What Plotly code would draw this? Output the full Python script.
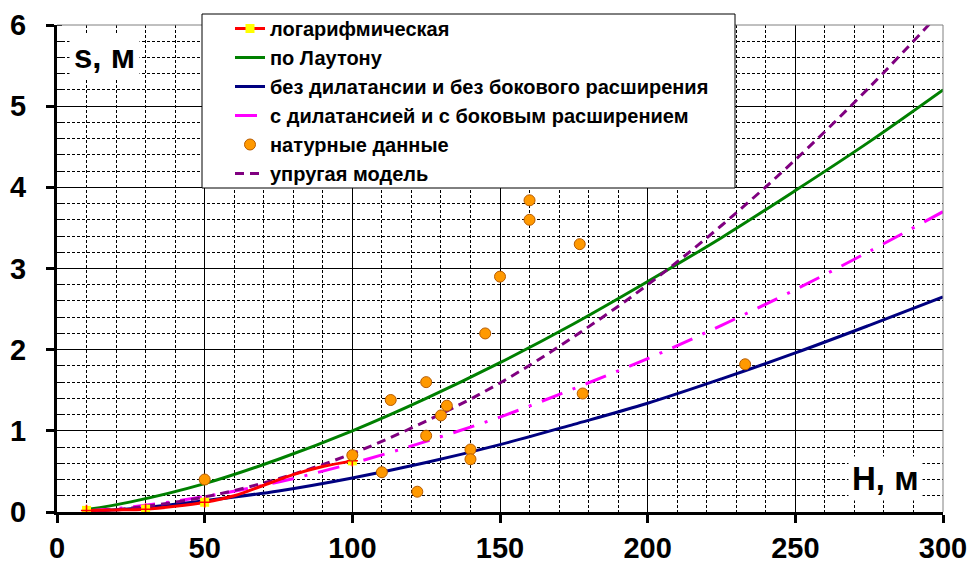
import plotly.graph_objects as go

# --- data -----------------------------------------------------------------
# Log-model curve (H, m -> s, m)
log_H = [10, 20, 30, 40, 50, 60, 70, 80, 90, 100]
log_s = [0.02, 0.025, 0.035, 0.07, 0.12, 0.20, 0.33, 0.46, 0.56, 0.63]
log_marker_H = [10, 30, 50, 100]

# Model curves share the same H grid
curve_H = [10, 25, 50, 75, 100, 125, 150, 175, 200, 225, 250, 275, 300]
lawton_s = [0.03, 0.125, 0.35, 0.65, 1.0, 1.40, 1.84, 2.32, 2.84, 3.38, 3.96, 4.56, 5.2]
nodil_s = [0.01, 0.04, 0.14, 0.26, 0.42, 0.61, 0.83, 1.08, 1.34, 1.64, 1.96, 2.30, 2.65]
dil_s = [0.013, 0.06, 0.19, 0.37, 0.60, 0.87, 1.17, 1.52, 1.89, 2.30, 2.74, 3.21, 3.70]
elastic_s = [0.01, 0.048, 0.185, 0.41, 0.72, 1.12, 1.59, 2.16, 2.80, 3.53, 4.34, 5.23, 6.19]

# Field measurements
field_H = [50, 100, 110, 113, 122, 125, 125, 130, 132, 140, 140, 145, 150, 160, 160, 177, 178, 233]
field_s = [0.40, 0.70, 0.49, 1.38, 0.25, 1.60, 0.94, 1.19, 1.31, 0.77, 0.65, 2.20, 2.90, 3.84, 3.60, 3.30, 1.46, 1.82]

x_ticks = [0, 50, 100, 150, 200, 250, 300]
y_ticks = [0, 1, 2, 3, 4, 5, 6]

names = [
    "логарифмическая",
    "по Лаутону",
    "без дилатансии и без бокового расширения",
    "с дилатансией и с боковым расширением",
    "натурные данные",
    "упругая модель",
]

FONT = "Liberation Sans, Arial, sans-serif"
LOG_LINE = dict(color="#FF0000", width=3, shape="spline")
LOG_MARK = dict(symbol="square", color="#FFFF00", size=9, line=dict(width=0))

fig = go.Figure()

fig.add_trace(go.Scatter(
    x=curve_H, y=nodil_s, mode="lines", name=names[2], legendrank=3,
    line=dict(color="#000080", width=3, shape="spline")))
fig.add_trace(go.Scatter(
    x=curve_H, y=lawton_s, mode="lines", name=names[1], legendrank=2,
    line=dict(color="#008000", width=3, shape="spline")))
fig.add_trace(go.Scatter(
    x=curve_H, y=dil_s, mode="lines", name=names[3], legendrank=4,
    line=dict(color="#FF00FF", width=3, shape="spline", dash="22px,11px,3px,11px")))
fig.add_trace(go.Scatter(
    x=curve_H, y=elastic_s, mode="lines", name=names[5], legendrank=6,
    line=dict(color="#800080", width=3, shape="spline", dash="9px,6px")))

# log curve: red line, with yellow square / red cross markers at selected points
mark_x = [h for h in log_H if h in log_marker_H]
mark_y = [s for h, s in zip(log_H, log_s) if h in log_marker_H]
fig.add_trace(go.Scatter(
    x=log_H, y=log_s, mode="lines", showlegend=False, hoverinfo="skip",
    line=LOG_LINE))
fig.add_trace(go.Scatter(
    x=mark_x, y=mark_y, mode="markers", showlegend=False, marker=LOG_MARK))
fig.add_trace(go.Scatter(
    x=mark_x, y=mark_y, mode="markers", showlegend=False, hoverinfo="skip",
    marker=dict(symbol="cross-thin", size=8, line=dict(color="#FF0000", width=1.5))))
# legend entry for the log curve
fig.add_trace(go.Scatter(
    x=[None], y=[None], mode="lines+markers", name=names[0], legendrank=1,
    line=LOG_LINE, marker=LOG_MARK))

fig.add_trace(go.Scatter(
    x=field_H, y=field_s, mode="markers", name=names[4], legendrank=5,
    marker=dict(symbol="circle", size=11, color="#FF9900",
                line=dict(color="#B85C00", width=1))))

axis_common = dict(
    showline=True, linecolor="black", linewidth=3,
    ticks="outside", ticklen=8, tickwidth=3, tickcolor="black",
    showgrid=True, gridcolor="black", gridwidth=1,
    zeroline=False, automargin=False,
    tickfont=dict(family=FONT, size=29, color="black", weight="bold"),
)

fig.update_xaxes(
    range=[0, 300], tickvals=x_ticks, ticktext=[str(v) for v in x_ticks],
    ticklabelstandoff=0,
    minor=dict(dtick=10, showgrid=True, gridcolor="black", griddash="3px,2px",
               gridwidth=1, ticks=""),
    **axis_common)
fig.update_yaxes(
    range=[0, 6], tickvals=y_ticks, ticktext=[str(v) for v in y_ticks],
    ticklabelstandoff=14,
    minor=dict(dtick=0.2, showgrid=True, gridcolor="black", griddash="3px,2px",
               gridwidth=1, ticks="inside", ticklen=5, tickwidth=1, tickcolor="black"),
    **axis_common)

# plot-area border (top and right), and legend box
fig.add_shape(type="line", xref="paper", yref="paper", x0=0, x1=1, y0=1, y1=1,
              line=dict(color="#808080", width=1))
fig.add_shape(type="line", xref="paper", yref="paper", x0=1, x1=1, y0=0, y1=1,
              line=dict(color="#808080", width=1))
fig.add_shape(type="rect", xref="paper", yref="paper", layer="above",
              x0=(202 - 57) / 886, x1=(735 - 57) / 886,
              y0=(512 - 188) / 487, y1=(512 - 14) / 487,
              fillcolor="white", line=dict(color="black", width=1))

# axis titles inside the plot area
fig.add_annotation(text="s, м", xref="paper", yref="paper",
                   x=(104 - 57) / 886, y=(512 - 57) / 487,
                   xanchor="center", yanchor="middle",
                   showarrow=False, bgcolor="white", borderpad=4,
                   font=dict(family=FONT, size=33, color="black", weight="bold"))
fig.add_annotation(text="H, м", xref="paper", yref="paper",
                   x=(885 - 57) / 886, y=(512 - 478) / 487,
                   xanchor="center", yanchor="middle",
                   showarrow=False, bgcolor="white", borderpad=3,
                   font=dict(family=FONT, size=33, color="black", weight="bold"))

fig.update_layout(
    width=970, height=565,
    margin=dict(l=57, r=27, t=25, b=53, autoexpand=False),
    paper_bgcolor="white", plot_bgcolor="white",
    showlegend=True,
    legend=dict(
        x=(230 - 57) / 886, y=(512 - 9) / 487, xanchor="left", yanchor="top",
        bgcolor="rgba(0,0,0,0)", borderwidth=0,
        font=dict(family=FONT, size=20, color="black", weight="bold"),
        itemwidth=30,
    ),
)

fig.write_html("out.html")
